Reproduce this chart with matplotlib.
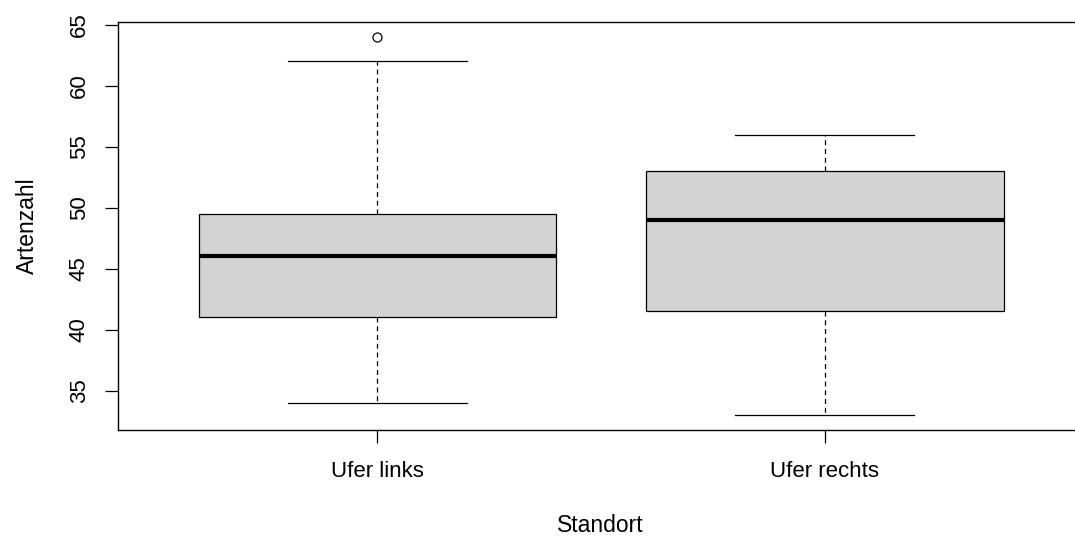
import matplotlib
matplotlib.use("Agg")
import matplotlib.pyplot as plt

plt.rcParams["font.family"] = ["Liberation Sans", "DejaVu Sans"]

# Boxplot statistics
standorte = ["Ufer links", "Ufer rechts"]
whisker_low = [34, 33]
q1 = [41, 41.5]
median = [46, 49]
q3 = [49.5, 53]
whisker_high = [62, 56]
outliers = [[64], []]

y_ticks = [35, 40, 45, 50, 55, 60, 65]

stats = [
    dict(label=name, whislo=lo, q1=a, med=m, q3=b, whishi=hi, fliers=fl)
    for name, lo, a, m, b, hi, fl in zip(
        standorte, whisker_low, q1, median, q3, whisker_high, outliers
    )
]

fig = plt.figure(figsize=(10.75, 5.39), dpi=100)
ax = fig.add_axes([118 / 1075, 1 - 430 / 539, (1084 - 118) / 1075, (430 - 22) / 539])

ax.bxp(
    stats,
    positions=[1, 2],
    widths=0.8,
    patch_artist=True,
    boxprops=dict(facecolor="#d3d3d3", edgecolor="black", linewidth=0.9),
    medianprops=dict(color="black", linewidth=3.0, solid_capstyle="butt"),
    whiskerprops=dict(color="black", linewidth=0.9, linestyle=(0, (4, 3))),
    capprops=dict(color="black", linewidth=0.9),
    capwidths=0.4,
    flierprops=dict(marker="o", markerfacecolor="none", markeredgecolor="black",
                    markersize=6.5, markeredgewidth=0.9),
)

ax.set_xlim(0.42, 2.58)
ax.set_ylim(31.76, 65.24)
ax.set_yticks(y_ticks)
ax.set_yticklabels([str(t) for t in y_ticks], rotation=90, va="center")
ax.set_xticks([1, 2])
ax.set_xticklabels(standorte)

ax.tick_params(axis="both", direction="out", length=9.4, width=0.9, labelsize=16)
ax.tick_params(axis="y", pad=11)
ax.tick_params(axis="x", pad=13)
for spine in ax.spines.values():
    spine.set_linewidth(1.0)

ax.set_ylabel("Artenzahl", fontsize=16.5)
ax.yaxis.set_label_coords(-91 / (1084 - 118), 0.5)
ax.set_xlabel("Standort", fontsize=16.5)
ax.xaxis.set_label_coords((600 - 118) / (1084 - 118), -(526 - 430) / (430 - 22))
ax.xaxis.label.set_va("center")
ax.yaxis.label.set_va("center")

fig.savefig("out.png", dpi=100)
